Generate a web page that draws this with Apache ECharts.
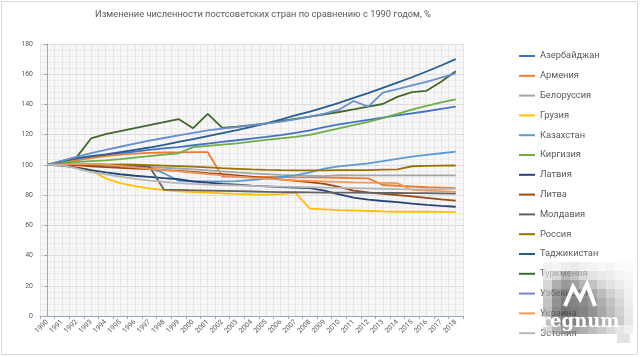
<!DOCTYPE html>
<html><head><meta charset="utf-8">
<script src="https://cdn.jsdelivr.net/npm/echarts@6/dist/echarts.min.js"></script>
<style>html,body{margin:0;padding:0;background:#fff}#c{width:640px;height:357px}</style>
</head><body><div id="c"></div>
<script>
const years = ['1990','1991','1992','1993','1994','1995','1996','1997','1998','1999','2000','2001','2002','2003','2004','2005','2006','2007','2008','2009','2010','2011','2012','2013','2014','2015','2016','2017','2018'];
const yTicks = [0,20,40,60,80,100,120,140,160,180];
const names = ['Азербайджан','Армения','Белоруссия','Грузия','Казахстан','Киргизия','Латвия','Литва','Молдавия','Россия','Таджикистан','Туркмения','Узбекистан','Украина','Эстония'];
const azerbaijan = [100,101.8,103.5,105,106.4,107.7,108.8,109.9,110.9,111.8,113,114.1,115.2,116.3,117.4,118.5,119.7,121.2,122.8,125,126.8,128.3,129.8,131.3,132.7,134.1,135.5,137,138.5];
const armenia = [100,101.5,103,104.5,105.8,106.8,107.5,108,108.2,108.3,108.4,108.4,92.3,92.2,92.1,92,91.9,91.8,91.7,91.6,91.5,91.3,91.1,86.7,86.2,85.7,85.2,84.9,84.6];
const belarus = [100,100.3,100.6,100.5,100.1,99.6,99.1,98.6,98.1,97.6,97,96.4,95.7,95,94.4,93.9,93.4,93,92.8,92.6,93.2,93.1,93,93,93,93,93,93,93];
const georgia = [100,99.8,98.5,96.5,91,88,86,84.5,83.3,82.5,82,81.6,81.2,80.8,80.5,80.3,80.6,81.6,71,70.5,70,69.8,69.5,69.2,69,69,69,68.9,68.8];
const kazakhstan = [100,100.5,101,100.5,99.5,99,98.5,98,94.5,89.5,89.3,89,89,89.3,90,91,92,93,95,97.5,99,100,101,102.5,104,105.5,106.6,107.7,108.8];
const kyrgyzstan = [100,101.5,102,102.5,103,103.8,104.8,105.8,106.8,107.7,111.8,112.6,113.4,114.2,115.4,116.6,117.6,118.6,119.8,122,124.2,126.3,128.5,131,133.7,136.5,139,141.3,143.3];
const latvia = [100,99.6,98.2,96.5,95,93.8,92.8,92,91.2,90.5,89,88.2,87.5,86.9,86.3,85.8,85.3,85,84.6,83,80.5,78.3,77,76.1,75.3,74.4,73.6,72.9,72.3];
const lithuania = [100,100.2,99.8,99,98.5,98,97.6,97.2,96.6,96,95.3,94.5,93.8,93,92.2,91.3,90.4,89.5,88.6,87.5,85.5,83,81.8,80.8,80,79.2,78.2,77.2,76.3];
const moldova = [100,100.2,100.1,99.9,99.8,99.6,99.3,99,83.6,83.4,83.2,83,82.8,82.6,82.4,82.2,82,81.9,81.8,81.7,81.6,81.6,81.5,81.5,81.4,81.3,81.3,81.2,81];
const russia = [100,100.3,100.5,100.4,100.2,100.3,100.1,99.8,99.5,99.2,98.8,98.3,97.8,97.4,97,96.7,96.5,96.4,96.4,96.4,96.5,96.5,96.6,96.8,97,99.1,99.3,99.5,99.6];
const tajikistan = [100,102.5,104.5,105.8,107,108.5,110,111.5,113.3,115.2,117,119,121,123,125.2,127.5,130,132.7,135.3,138,141,144.3,147.5,151,154.5,158,161.8,165.8,170];
const turkmenistan = [100,102.5,105,117.5,120.3,122.3,124.3,126.3,128.3,130.3,124.3,133.7,124.5,125.3,126.3,127.5,129,130.5,132,133.5,135,136.7,138.5,140.3,145,148.2,149,155,162];
const uzbekistan = [100,102.7,105.3,107.8,110,112,114,116,117.8,119.5,121.2,122.8,124,125,126.1,127.3,128.6,130.1,131.9,134,136.5,142.3,138.5,147.8,150.2,152.6,155,157.7,160.6];
const ukraine = [100,100.4,100.7,100.6,100,99.3,98.4,97.4,96.5,95.7,94.8,93.9,93,92.2,91.5,90.9,90.3,89.8,89.4,89,88.7,88.4,88.2,88.1,87.9,83.4,83,82.6,82.2];
const estonia = [100,99.8,97.7,95.2,93.8,92.2,90.8,89.6,88.7,87.9,87.4,87,86.7,86.4,86.1,85.8,85.6,85.4,85.2,85,84.8,84.6,84.4,84.2,84,83.8,83.8,83.9,84.1];
const seriesData = [azerbaijan,armenia,belarus,georgia,kazakhstan,kyrgyzstan,latvia,lithuania,moldova,russia,tajikistan,turkmenistan,uzbekistan,ukraine,estonia];
const colors = ['#4472C4','#ED7D31','#A5A5A5','#FFC000','#5B9BD5','#70AD47','#264478','#9E480E','#636363','#997300','#255E91','#43682B','#698ED0','#F1975A','#B7B7B7'];

// watermark mosaic (decorative)
const mosaic = [
 [235,240,230,225,235,240,245,240,250,250],
 [220,200,150,170,200,215,225,230,240,245],
 [200,140,110,120,150,170,200,215,230,240],
 [180,110,80,90,100,130,160,190,210,235],
 [170,100,70,80,90,110,140,170,200,230],
 [160,90,60,70,80,100,130,160,190,225],
 [170,100,70,80,90,110,130,150,180,220],
 [200,150,120,130,140,160,180,200,220,235]
];
const wm = [];
mosaic.forEach((row,r)=>row.forEach((g,c)=>{
  wm.push({type:'rect',shape:{x:543+c*9,y:262+r*9,width:9,height:9},style:{fill:'rgb('+g+','+g+','+g+')',opacity:0.7},z:100});
}));
wm.push({type:'rect',shape:{x:617,y:334,width:13,height:9},style:{fill:'#e4e4e4'},z:100});
wm.push({type:'polyline',shape:{points:[[565,306],[573,287],[580,299],[587,284],[595,306]]},style:{stroke:'#fff',lineWidth:4,fill:null},z:101});
wm.push({type:'text',x:580,y:322,style:{text:'regnum',fill:'#fff',font:'bold 18px "DejaVu Serif", serif',textAlign:'center',textVerticalAlign:'middle'},z:101});

const chart = echarts.init(document.getElementById('c'));
chart.setOption({
  animation:false,
  backgroundColor:'#fff',
  title:{text:'Изменение численности постсоветских стран по сравнению с 1990 годом, %',left:95,top:10,padding:0,
    textStyle:{fontFamily:'Roboto',fontSize:9.3,fontWeight:'normal',color:'#595959'}},
  grid:{left:40,right:177,top:44,bottom:41,show:true,backgroundColor:'#f7f7f7',borderWidth:0},
  legend:{orient:'vertical',left:519,top:50,padding:0,itemWidth:16,itemHeight:2,itemGap:7.8,icon:'rect',
    data:names,textStyle:{fontFamily:'Roboto',fontSize:9.3,color:'#595959',lineHeight:12}},
  xAxis:[{type:'category',data:years,boundaryGap:true,
    axisLine:{lineStyle:{color:'#9aa8bc'}},axisTick:{show:true,length:3,lineStyle:{color:'#9aa8bc'}},
    axisLabel:{interval:0,rotate:45,fontSize:7,color:'#595959',fontFamily:'Roboto',margin:5},
    splitLine:{show:false}},
   {type:'value',min:-0.5,max:28.5,interval:0.5,show:true,position:'bottom',
    axisLine:{show:false},axisTick:{show:false},axisLabel:{show:false},
    splitLine:{show:true,lineStyle:{color:'#e6e6e6',width:1}}}],
  yAxis:{type:'value',min:yTicks[0],max:yTicks[yTicks.length-1],interval:20,
    axisLine:{show:true,lineStyle:{color:'#9aa8bc'}},axisTick:{show:true,length:3,lineStyle:{color:'#9aa8bc'}},
    axisLabel:{fontSize:7,color:'#595959',fontFamily:'Roboto',margin:7},
    splitLine:{lineStyle:{color:'#dcdcdc'}},
    minorTick:{show:false,splitNumber:5},minorSplitLine:{show:true,lineStyle:{color:'#ececec'}}},
  series:names.map((n,i)=>({name:n,type:'line',data:seriesData[i],xAxisIndex:0,symbol:'none',
    itemStyle:{color:colors[i]},lineStyle:{color:colors[i],width:1.8}})),
  graphic:[{type:'rect',shape:{x:1.5,y:1.5,width:636,height:353},style:{fill:null,stroke:'#d9d9d9',lineWidth:1},z:-1,silent:true}].concat(wm)
});
</script></body></html>
